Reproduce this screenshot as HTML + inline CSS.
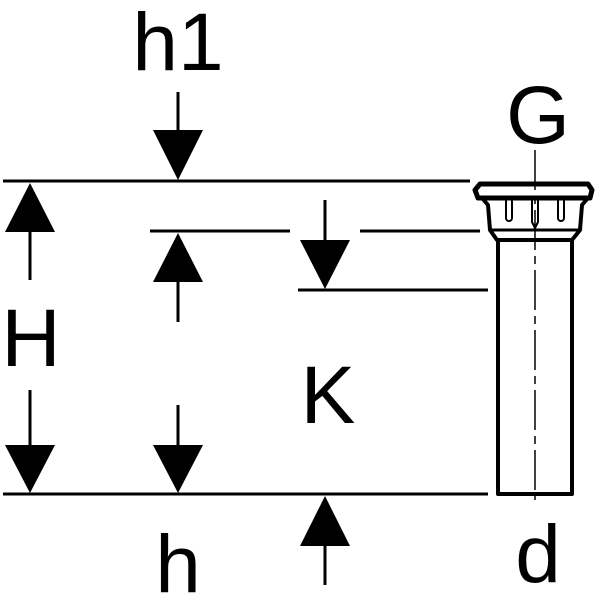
<!DOCTYPE html>
<html><head><style>body{margin:0;background:#fff}svg{display:block}</style></head><body>
<svg width="600" height="600" viewBox="0 0 600 600" xmlns="http://www.w3.org/2000/svg">
<g stroke="#000" stroke-width="3" fill="none">
<line x1="3" y1="181" x2="470" y2="181"/>
<line x1="150" y1="231" x2="290" y2="231"/>
<line x1="360" y1="231" x2="480" y2="231"/>
<line x1="298" y1="290" x2="488" y2="290"/>
<line x1="3" y1="494" x2="488" y2="494"/>
<line x1="30" y1="230" x2="30" y2="280"/>
<line x1="30" y1="390" x2="30" y2="446"/>
<line x1="178" y1="92" x2="178" y2="132"/>
<line x1="178" y1="280" x2="178" y2="322"/>
<line x1="178" y1="405" x2="178" y2="446"/>
<line x1="325" y1="200" x2="325" y2="242"/>
<line x1="325" y1="545" x2="325" y2="585"/>
</g>
<g fill="#000">
<polygon points="30,183 5,232 55,232"/>
<polygon points="30,493 5,445 55,445"/>
<polygon points="178,180 153,130 203,130"/>
<polygon points="178,233 153,282 203,282"/>
<polygon points="178,493 153,445 203,445"/>
<polygon points="325,289 300,240 350,240"/>
<polygon points="325,496 300,546 350,546"/>
</g>
<g stroke="#000" fill="none" stroke-linejoin="round">
<path d="M480,184 L588,184 L592,190 L590,198 L478,198 L475,190 Z" stroke-width="5"/>
<path d="M482,198 L488,205 L490,230 L497,240 L572,240 L580,230 L582,205 L588,198" stroke-width="4"/>
<path d="M490,230 L580,230" stroke-width="3"/>
<rect x="498" y="240" width="74" height="254" stroke-width="4"/>
<path d="M506,200 v18 a3,3 0 0 0 6,0 v-18" stroke-width="2"/>
<path d="M558,200 v18 a3,3 0 0 0 6,0 v-18" stroke-width="2"/>
<path d="M532,200 v22 l3,6 l3,-6 v-22" stroke-width="2"/>
<line x1="535" y1="150" x2="535" y2="500" stroke-width="1.5" stroke-dasharray="40,6,8,6"/>
</g>
<g font-family="Liberation Sans, sans-serif" font-size="82" text-anchor="middle" fill="#000">
<text x="178" y="70">h1</text>
<text x="538" y="143">G</text>
<text x="31" y="366">H</text>
<text x="328" y="423">K</text>
<text x="178" y="592">h</text>
<text x="538" y="582">d</text>
</g>
</svg>
</body></html>
